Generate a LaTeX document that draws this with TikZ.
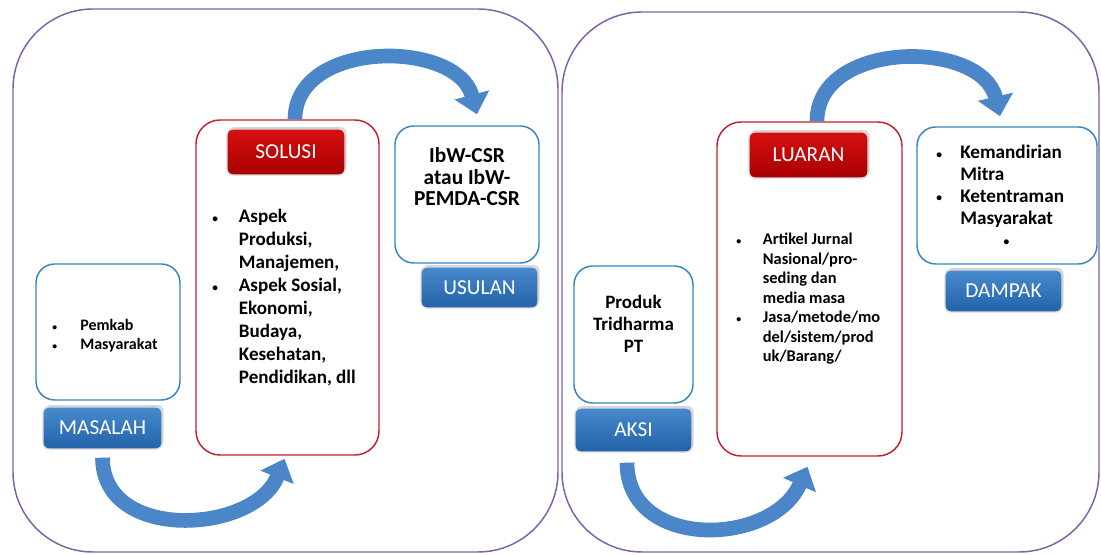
\documentclass[tikz,border=0pt]{standalone}
\usepackage{fontspec}
\setmainfont{Carlito}
\usepackage{xcolor}
\usepackage{graphicx}
\usetikzlibrary{arrows.meta,shadows,calc}

\definecolor{framePurple}{RGB}{128,96,168}
\definecolor{boxBlue}{RGB}{52,134,192}
\definecolor{boxRed}{RGB}{192,32,48}
\definecolor{tabBlueTop}{RGB}{72,138,206}
\definecolor{tabBlueBot}{RGB}{34,98,168}
\definecolor{tabRedTop}{RGB}{214,16,16}
\definecolor{tabRedBot}{RGB}{168,0,0}
\definecolor{arrowBlue}{RGB}{74,134,200}

\newcommand{\bitem}[1][20pt]{\makebox[#1][l]{\raisebox{0.6pt}{\scalebox{0.6}{\textbullet}}}}

\begin{document}
\begin{tikzpicture}[x=0.75pt,y=0.75pt,yscale=-1,xscale=1,
	frame/.style={draw=framePurple, line width=1.1pt, rounded corners=60pt},
	bluebox/.style={draw=boxBlue, line width=1.1pt, fill=white, rounded corners=14pt, inner sep=0pt},
	redbox/.style={draw=boxRed, line width=1.1pt, fill=white, rounded corners=18pt, inner sep=0pt},
	tab/.style={draw=black!15, line width=1pt, rounded corners=4.5pt, text=white, inner sep=0pt,
		font=\fontsize{16}{17}\selectfont, drop shadow={opacity=0.3, shadow xshift=1.2pt, shadow yshift=1.5pt}},
	bluetab/.style={tab, top color=tabBlueTop, bottom color=tabBlueBot},
	redtab/.style={tab, top color=tabRedTop, bottom color=tabRedBot},
	curvearrow/.style={draw=arrowBlue, line width=11pt, -{Triangle[width=26pt,length=15pt]}},
	txt/.style={inner sep=0pt, font=\bfseries\fontsize{14.3}{17.25}\selectfont}]

	\useasboundingbox (0,0) rectangle (1101,555);

	%Rounded Rect [id:frameL]
	\draw[frame] (13,9) rectangle (558,552);
	%Rounded Rect [id:frameR]
	\draw[frame] (562,12) rectangle (1099,552);

	%Rounded Rect
	\node[bluebox, minimum width=108pt, minimum height=102pt] (masalahBox) at (108,332) {};
	\node[bluetab, minimum width=89.25pt, minimum height=31.5pt] (masalahTab) at (102.5,428) {MASALAH};
	%Rounded Rect
	\node[redbox, minimum width=137.25pt, minimum height=251.25pt] (solusiBox) at (287.5,287.5) {};
	\node[redtab, minimum width=88.5pt, minimum height=34.5pt] (solusiTab) at (286,152) {SOLUSI};
	%Rounded Rect
	\node[bluebox, minimum width=108pt, minimum height=102.75pt] (usulanBox) at (467,194.5) {};
	\node[bluetab, minimum width=87.75pt, minimum height=30.75pt] (usulanTab) at (479.5,287.5) {USULAN};

	%Rounded Rect
	\node[bluebox, minimum width=89.25pt, minimum height=102.75pt] (produkBox) at (633.5,334.5) {};
	\node[bluetab, minimum width=87.75pt, minimum height=33pt] (aksiTab) at (633.5,430) {AKSI};
	%Rounded Rect
	\node[redbox, minimum width=138.75pt, minimum height=250.5pt] (luaranBox) at (809.5,289) {};
	\node[redtab, minimum width=89.25pt, minimum height=34.5pt] (luaranTab) at (808.5,155) {LUARAN};
	%Rounded Rect
	\node[bluebox, minimum width=135pt, minimum height=102.75pt] (dampakBox) at (1007,195.5) {};
	\node[bluetab, minimum width=87.75pt, minimum height=31.5pt] (dampakTab) at (1003.5,291) {DAMPAK};

	%Curve Arrows
	\draw[curvearrow] ($(solusiBox.north)+(7.5,0)$) .. controls +(0,-80) and +(-20,-75) .. ($(usulanBox.north)+(10,-11)$);
	\draw[curvearrow] ($(masalahTab.south)+(0,8)$) .. controls +(0,85) and +(-30,75) .. ($(solusiBox.south)+(-3,3)$);
	\draw[curvearrow] ($(luaranBox.north)+(7.5,0)$) .. controls +(0,-82) and +(-18,-77) .. ($(dampakBox.north)+(-7,-10)$);
	\draw[curvearrow] ($(aksiTab.south)+(-6.5,10)$) .. controls +(0,88) and +(-35,80) .. ($(luaranBox.south)+(-2,10)$);

	% Text Node
	\node[txt, anchor=base west, font=\bfseries\fontsize{12}{14.25}\selectfont] (masalahText) at (52,331) {\begin{tabular}[t]{@{}l@{}l@{}}
		\bitem[21pt] & Pemkab\\
		\bitem[21pt] & Masyarakat
	\end{tabular}};
	% Text Node
	\node[txt, anchor=base west] (solusiText) at (212,223) {\begin{tabular}[t]{@{}l@{}l@{}}
		\bitem & Aspek\\
		& Produksi,\\
		& Manajemen,\\
		\bitem & Aspek Sosial,\\
		& Ekonomi,\\
		& Budaya,\\
		& Kesehatan,\\
		& Pendidikan, dll
	\end{tabular}};
	% Text Node
	\node[txt, anchor=base, font=\bfseries\fontsize{16}{16.1}\selectfont] (usulanText) at (467,163) {\begin{tabular}[t]{@{}c@{}}
		IbW-CSR\\ atau IbW-\\ PEMDA-CSR
	\end{tabular}};
	% Text Node
	\node[txt, anchor=base, font=\bfseries\fontsize{14.2}{16.5}\selectfont] (produkText) at (633.5,309) {\begin{tabular}[t]{@{}c@{}}
		Produk\\ Tridharma\\ PT
	\end{tabular}};
	% Text Node
	\node[txt, anchor=base west, font=\bfseries\fontsize{12.3}{14.6}\selectfont] (luaranText) at (736,245) {\begin{tabular}[t]{@{}l@{}l@{}}
		\bitem & Artikel Jurnal\\
		& Nasional/pro-\\
		& seding dan\\
		& media masa\\
		\bitem & Jasa/metode/mo\\
		& del/sistem/prod\\
		& uk/Barang/
	\end{tabular}};
	% Text Node
	\node[txt, anchor=base west, font=\bfseries\fontsize{14.4}{16.3}\selectfont] (dampakText) at (936,159) {\begin{tabular}[t]{@{}l@{}l@{}}
		\bitem[18pt] & Kemandirian\\
		& Mitra\\
		\bitem[18pt] & Ketentraman\\
		& Masyarakat\\
		\multicolumn{2}{@{}l@{}}{\hspace{50.5pt}\raisebox{0.6pt}{\scalebox{0.6}{\textbullet}}}
	\end{tabular}};
\end{tikzpicture}
\end{document}
